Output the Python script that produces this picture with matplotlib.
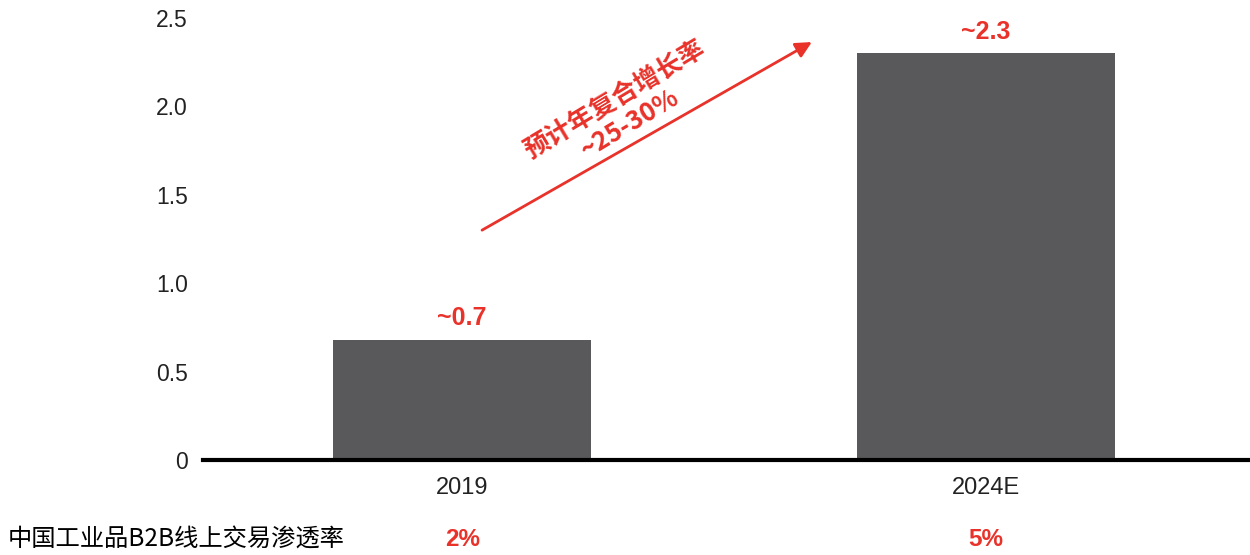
import numpy as np
import matplotlib
matplotlib.use("Agg")
import matplotlib.pyplot as plt
from matplotlib.transforms import blended_transform_factory

# Data
years = ["2019", "2024E"]
market_size = [0.68, 2.3]
value_labels = ["~0.7", "~2.3"]
penetration = ["2%", "5%"]
row_label = "中国工业品B2B线上交易渗透率"
cagr_text = "预计年复合增长率\n~25-30%"
y_ticks = [0, 0.5, 1.0, 1.5, 2.0, 2.5]
y_tick_labels = ["0", "0.5", "1.0", "1.5", "2.0", "2.5"]

bar_color = "#59595b"
red = "#e8322a"

plt.rcParams['font.family'] = ['Liberation Sans', 'Noto Sans CJK SC', 'DejaVu Sans']

fig = plt.figure(figsize=(12.5, 5.55), dpi=100)
ax = fig.add_axes([203 / 1250, 1 - 460 / 555, 1045 / 1250, 442 / 555])

x = np.arange(len(years))
bars = ax.bar(x, market_size, width=0.493, color=bar_color, zorder=2)

ax.set_xlim(-0.495, 1.501)
ax.set_ylim(0, 2.5)
ax.set_yticks(y_ticks)
ax.set_yticklabels(y_tick_labels)
ax.set_xticks(x)
ax.set_xticklabels(years)
ax.tick_params(axis='both', length=0, colors='#222222')
ax.tick_params(axis='y', pad=11, labelsize=16.5)
ax.tick_params(axis='x', pad=12, labelsize=17)

for side in ['left', 'right', 'top']:
    ax.spines[side].set_visible(False)
ax.spines['bottom'].set_linewidth(3)
ax.spines['bottom'].set_color('black')
ax.spines['bottom'].set_zorder(3)

# value labels above bars
for xi, val, lab in zip(x, market_size, value_labels):
    ax.annotate(lab, (xi, val), xytext=(0, 7), textcoords='offset points',
                ha='center', va='bottom', color=red, fontsize=18, fontweight='bold')

# growth arrow
ax.annotate("", xy=(0.668, 2.364), xytext=(0.038, 1.30),
            arrowprops=dict(arrowstyle='-|>', color=red, lw=2,
                            mutation_scale=24, shrinkA=0, shrinkB=0))
ax.text(0.305, 1.97, cagr_text, rotation=31, rotation_mode='anchor',
        ha='center', va='center', color=red, fontsize=18.5, fontweight='bold',
        family=['Noto Sans CJK SC', 'DejaVu Sans'], linespacing=1.1)

# penetration row
fig.text(8 / 1250, 1 - 540 / 555, row_label, ha='left', va='center',
         fontsize=17.5, color='black', family=['Noto Sans CJK SC', 'DejaVu Sans'])
trans = blended_transform_factory(ax.transData, fig.transFigure)
for xi, p in zip(x, penetration):
    ax.text(xi, 1 - 540 / 555, p, transform=trans, ha='center', va='center',
            color=red, fontsize=17.5, fontweight='bold')

fig.savefig("out.png", dpi=100)
